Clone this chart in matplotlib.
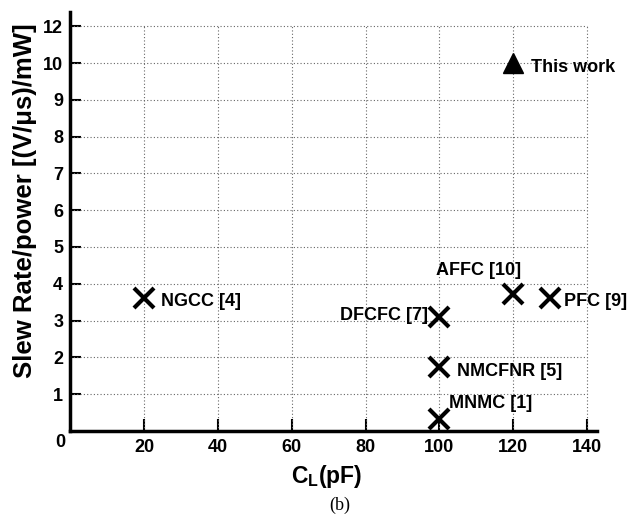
import matplotlib
matplotlib.use("Agg")
import matplotlib.pyplot as plt

plt.rcParams['font.family'] = ['Liberation Sans', 'DejaVu Sans']
plt.rcParams['font.weight'] = 'bold'
plt.rcParams['mathtext.fontset'] = 'custom'
plt.rcParams['mathtext.rm'] = 'Liberation Sans:bold'
plt.rcParams['mathtext.bf'] = 'Liberation Sans:bold'

# prior works (x markers)
names = ["NGCC [4]", "DFCFC [7]", "AFFC [10]", "PFC [9]", "NMCFNR [5]", "MNMC [1]"]
cl_pf = [20, 100, 120, 130, 100, 100]
sr_power = [3.62, 3.1, 3.73, 3.62, 1.73, 0.32]
# label offsets in points and alignment
offsets = [(12, -3), (-8, 1), (-25, 17), (10, -3), (13, -3), (7, 11)]
aligns = ["left", "right", "center", "left", "left", "left"]

# this work
this_x = [120]
this_y = [10]

xticks = [20, 40, 60, 80, 100, 120, 140]
yticks = [1, 2, 3, 4, 5, 6, 7, 8, 9, 10, 11]
ytick_labels = ["1", "2", "3", "4", "5", "6", "7", "8", "9", "10", "12"]

fig = plt.figure(figsize=(6.34, 5.23), dpi=100)
ax = fig.add_axes([0.1107, 0.1763, 0.831, 0.8013])
ax.set_xlim(0, 142.7)
ax.set_ylim(0, 11.4)

# dotted grid limited to the 0..140 x 0..11 box
ax.hlines(yticks, 0, 140, colors='#666666', linestyles=(0, (1, 2)), linewidth=0.8)
ax.vlines(xticks, 0, 11, colors='#666666', linestyles=(0, (1, 2)), linewidth=0.8)

ax.plot(cl_pf, sr_power, 'kx', markersize=14, markeredgewidth=3, clip_on=False)
for n, x, y, off, ha in zip(names, cl_pf, sr_power, offsets, aligns):
    ax.annotate(n, (x, y), xytext=off, textcoords='offset points',
                ha=ha, va='center', fontsize=13, fontweight='bold')

ax.plot(this_x, this_y, 'k^', markersize=15)
ax.annotate("This work", (this_x[0], this_y[0]), xytext=(13, -3), textcoords='offset points',
            ha='left', va='center', fontsize=13, fontweight='bold')

for s in ['top', 'right']:
    ax.spines[s].set_visible(False)
for s in ['left', 'bottom']:
    ax.spines[s].set_linewidth(2.5)

ax.set_xticks(xticks)
ax.set_yticks(yticks)
ax.set_yticklabels(ytick_labels)
ax.tick_params(direction='in', length=9, width=1.5, labelsize=13, pad=6)
ax.tick_params(axis='y', pad=5, length=8)

ax.text(-2.8, -0.33, "0", ha='center', va='center', fontsize=13, fontweight='bold', clip_on=False)

ax.set_xlabel("C$_\\mathrm{L}$(pF)", fontsize=16.5, fontweight='bold')
ax.xaxis.set_label_coords(0.486, -0.078)
ax.set_ylabel("Slew Rate/power [(V/μs)/mW]", fontsize=18.5, fontweight='bold')
ax.yaxis.set_label_coords(-0.063, 0.55)

fig.text(0.536, 0.034, "(b)", ha='center', va='center', fontsize=13,
         family=['Liberation Serif', 'DejaVu Serif'], fontweight='normal')

fig.savefig("out.png", dpi=100)
